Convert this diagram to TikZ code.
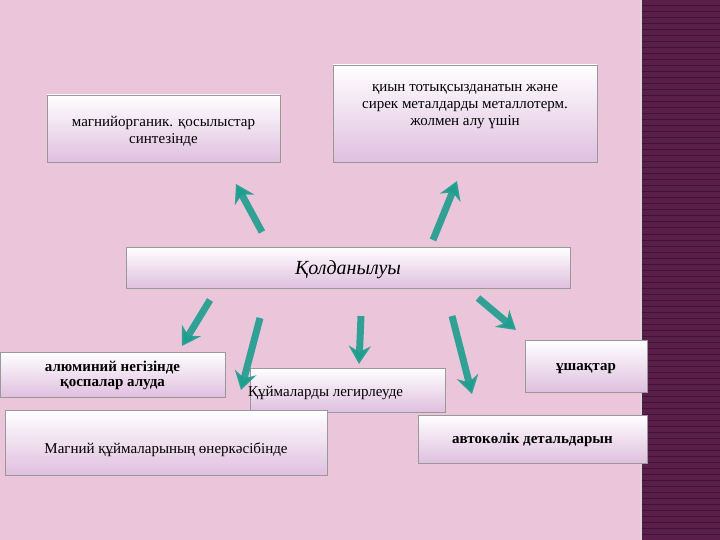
\documentclass[tikz,border=0pt]{standalone}
\usepackage{fontspec}
\setmainfont{Liberation Serif}
\usetikzlibrary{arrows.meta}
\definecolor{bg}{HTML}{EBC6DA}
\definecolor{strip}{HTML}{5A1E4A}
\definecolor{teal1}{HTML}{1E9E8E}
\tikzset{
 box/.style={draw=black!40, top color=white, bottom color=violet!25, inner sep=2pt},
 txt/.style={align=center, font=\fontsize{15}{17}\selectfont, inner sep=0pt},
 arr/.style={teal1, line width=7pt, -{Stealth[length=18pt,width=22pt]}, draw opacity=0.9}
}
\begin{document}
\begin{tikzpicture}[x=1pt,y=-1pt]
\useasboundingbox (0,0) rectangle (720,540);
\fill[bg] (0,0) rectangle (720,540);
\fill[strip] (641,0) rectangle (720,540);
\foreach \y in {0,6,...,540} \draw[strip!70!black, line width=1pt] (641,\y) -- (720,\y);
\draw[white!80!strip, line width=1.5pt] (641,0) -- (641,540);
\node[box, minimum width=233pt, minimum height=67pt] (a) at (163.5,128.5) {};
\node[txt] (at) at (163.5,131) {магнийорганик. қосылыстар\\ синтезінде};
\node[box, minimum width=264pt, minimum height=97pt] (b) at (465,113.5) {};
\node[txt, anchor=north] (bt) at (465,84) {қиын тотықсызданатын және\\ сирек металдарды металлотерм.\\ жолмен алу үшін};
\node[box, minimum width=444pt, minimum height=41pt] (c) at (348,267.5) {};
\node[txt, font=\fontsize{20}{22}\selectfont\itshape] (ct) at (348,270) {Қолданылуы};
\node[box, minimum width=225pt, minimum height=45pt] (d) at (112.5,374.5) {};
\node[txt, font=\fontsize{15}{15}\selectfont\bfseries] (dt) at (112.5,375) {алюминий негізінде\\ қоспалар алуда};
\node[box, minimum width=195pt, minimum height=44pt] (e) at (347.5,390) {};
\node[txt, anchor=west] (et) at (248,393) {Құймаларды легирлеуде};
\node[box, minimum width=122pt, minimum height=52pt] (f) at (586,366) {};
\node[txt, font=\fontsize{15}{17}\selectfont\bfseries] (ft) at (586,369) {ұшақтар};
\node[box, minimum width=322pt, minimum height=65pt] (g) at (166,442.5) {};
\node[txt] (gt) at (166,450) {Магний құймаларының өнеркәсібінде};
\node[box, minimum width=229pt, minimum height=48pt] (h) at (532.5,439) {};
\node[txt, font=\fontsize{15}{17}\selectfont\bfseries] (ht) at (532.5,440) {автокөлік детальдарын};
\coordinate (a1) at (262,232); \coordinate (a2) at (236,184);
\coordinate (b1) at (433,240); \coordinate (b2) at (457,181);
\coordinate (c1) at (210,300); \coordinate (c2) at (182,346);
\coordinate (d1) at (260,318); \coordinate (d2) at (241,390);
\coordinate (e1) at (361,316); \coordinate (e2) at (359,364);
\coordinate (f1) at (452,316); \coordinate (f2) at (472,394);
\coordinate (g1) at (478,298); \coordinate (g2) at (516,330);
\foreach \s/\t in {a1/a2,b1/b2,c1/c2,d1/d2,e1/e2,f1/f2,g1/g2} \draw[arr] (\s) -- (\t);
\end{tikzpicture}
\end{document}
